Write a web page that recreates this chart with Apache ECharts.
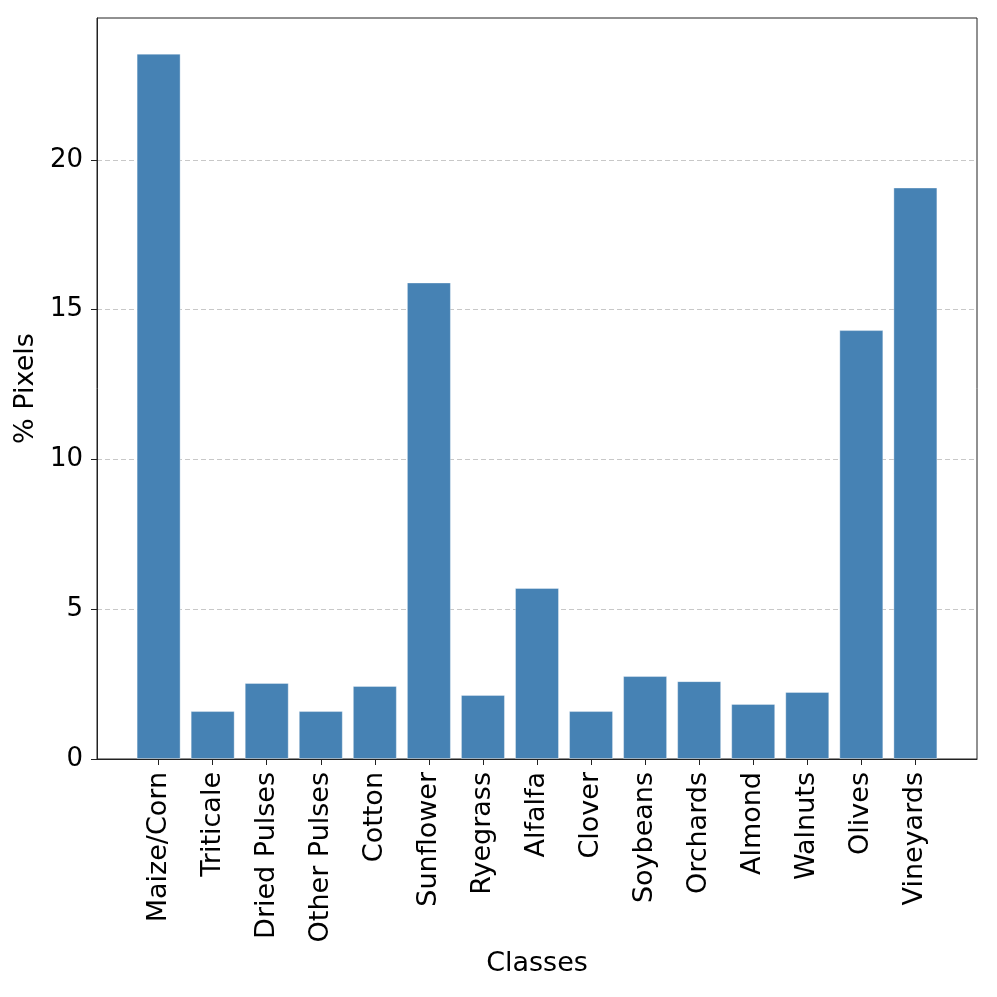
<!DOCTYPE html>
<html>
<head>
<meta charset="utf-8">
<script src="https://cdn.jsdelivr.net/npm/echarts@6/dist/echarts.min.js"></script>
<style>html,body{margin:0;padding:0;background:#fff}#c{width:997px;height:997px}</style>
</head>
<body>
<div id="c"></div>
<script>
const categories = ["Maize/Corn","Triticale","Dried Pulses","Other Pulses","Cotton","Sunflower","Ryegrass","Alfalfa","Clover","Soybeans","Orchards","Almond","Walnuts","Olives","Vineyards"];
const pixelPercent = [23.55,1.60,2.54,1.60,2.44,15.91,2.14,5.71,1.60,2.77,2.60,1.84,2.24,14.32,19.08];
const yTicks = [0,5,10,15,20];

const positions = categories.map((_, i) => i);
const font = "DejaVu Sans";

const chart = echarts.init(document.getElementById('c'), null, {renderer: 'canvas'});
chart.setOption({
  animation: false,
  backgroundColor: '#fff',
  grid: {left: 97, right: 20, top: 18, bottom: 238, show: true, borderColor: '#222', borderWidth: 1, backgroundColor: 'transparent'},
  xAxis: {
    type: 'value', min: -1.14, max: 15.14,
    name: 'Classes', nameLocation: 'middle', nameGap: 191,
    nameTextStyle: {fontFamily: font, fontSize: 27, color: '#000'},
    axisLine: {show: true, onZero: false, lineStyle: {color: '#222', width: 1}},
    axisTick: {show: true, inside: false, length: 6, customValues: positions, lineStyle: {color: '#222', width: 1}},
    axisLabel: {customValues: positions, rotate: 90, margin: 13, fontFamily: font, fontSize: 27, color: '#000',
      formatter: v => categories[Math.round(v)] || ''},
    splitLine: {show: false}
  },
  yAxis: {
    type: 'value', min: 0, max: 24.74,
    name: '% Pixels', nameLocation: 'middle', nameGap: 56, nameRotate: 90,
    nameTextStyle: {fontFamily: font, fontSize: 27, color: '#000'},
    axisLine: {show: true, onZero: false, lineStyle: {color: '#222', width: 1}},
    axisTick: {show: true, length: 6, customValues: yTicks, lineStyle: {color: '#222', width: 1}},
    axisLabel: {customValues: yTicks, margin: 14, fontFamily: font, fontSize: 26, color: '#000'},
    splitLine: {show: true, lineStyle: {color: '#c8c8c8', type: [5, 3], width: 1}}
  },
  series: [{
    type: 'bar',
    data: positions.map((p, i) => [p, pixelPercent[i]]),
    barWidth: 44,
    itemStyle: {color: '#4682b4', borderColor: 'rgba(255,255,255,0.35)', borderWidth: 1},
    z: 3
  }]
});
</script>
</body>
</html>
